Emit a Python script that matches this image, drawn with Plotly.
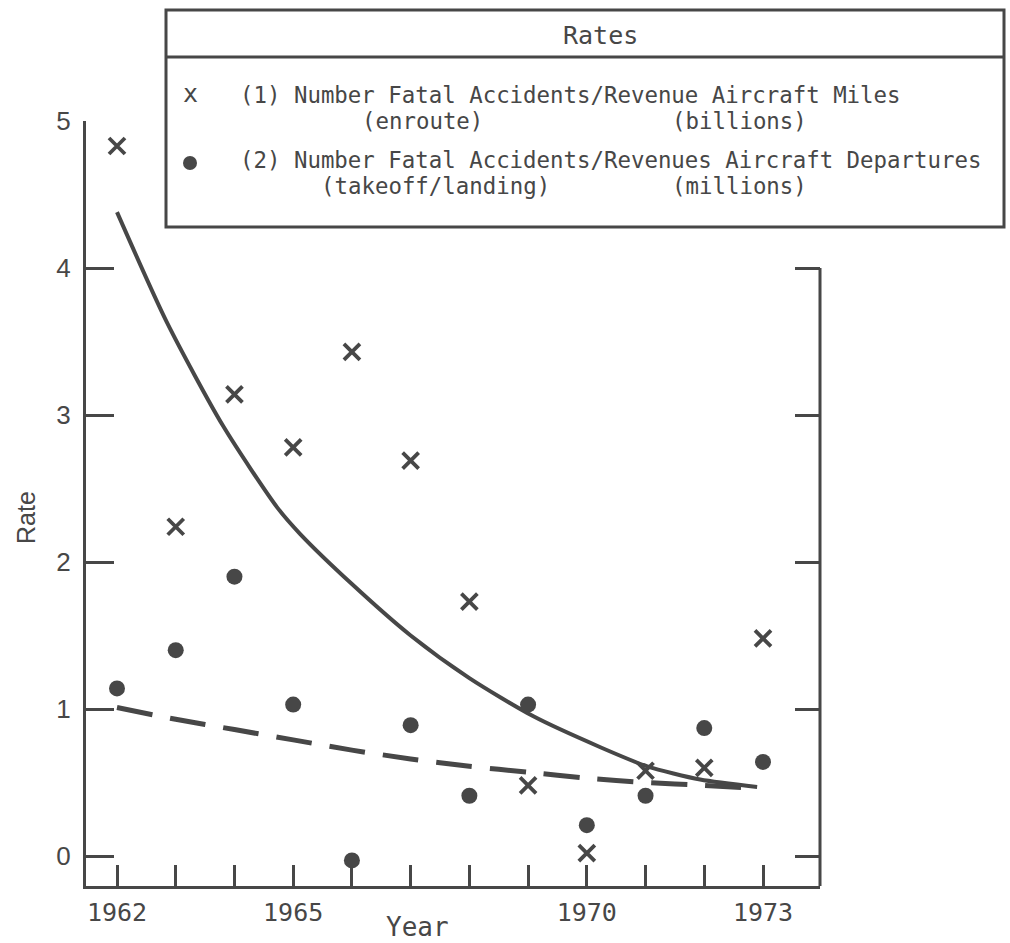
import plotly.graph_objects as go

# ---------------- data ----------------
years = [1962, 1963, 1964, 1965, 1966, 1967, 1968, 1969, 1970, 1971, 1972, 1973]
rate_enroute = [4.83, 2.24, 3.14, 2.78, 3.43, 2.69, 1.73, 0.48, 0.02, 0.58, 0.60, 1.48]
rate_takeoff = [1.14, 1.40, 1.90, 1.03, -0.03, 0.89, 0.41, 1.03, 0.21, 0.41, 0.87, 0.64]

trend1_x = [1962.0, 1962.85, 1963.8, 1964.73, 1965.12, 1966.0, 1967.0, 1968.0, 1969.09, 1970.23, 1971.03, 1971.93, 1972.9]
trend1_y = [4.38, 3.63, 2.93, 2.37, 2.19, 1.85, 1.50, 1.21, 0.95, 0.74, 0.61, 0.52, 0.47]

trend2_x = [1962, 1963, 1964, 1965, 1966, 1967, 1968, 1969, 1970, 1971, 1972, 1972.9]
trend2_y = [1.01, 0.93, 0.86, 0.79, 0.72, 0.66, 0.61, 0.57, 0.53, 0.50, 0.48, 0.46]

x_tick_vals = years
x_tick_text = ["1962", "", "", "1965", "", "", "", "", "1970", "", "", "1973"]
y_tick_vals = [0, 1, 2, 3, 4, 5]
y2_tick_vals = [0, 1, 2, 3, 4]

legend_title = "Rates"
legend_line1 = "(1) Number Fatal Accidents/Revenue Aircraft Miles"
legend_line2 = "(enroute)", "(billions)"
legend_line3 = "(2) Number Fatal Accidents/Revenues Aircraft Departures"
legend_line4 = "(takeoff/landing)", "(millions)"

# ---------------- layout geometry (pixels) ----------------
W, H = 1010, 943
L, R, T, B = 86, 820, 121, 886
INK = "#474747"
MONO = "DejaVu Sans Mono, Liberation Mono, monospace"
SANS = "Liberation Sans, Arial, sans-serif"


def px_x(px):
    return (px - L) / (R - L)


def px_y(py):
    return (B - py) / (B - T)


fig = go.Figure()

fig.add_trace(go.Scatter(
    x=trend1_x, y=trend1_y, mode="lines",
    line=dict(color=INK, width=4, shape="spline", smoothing=0.7),
    showlegend=False, hoverinfo="skip"))

fig.add_trace(go.Scatter(
    x=trend2_x, y=trend2_y, mode="lines",
    line=dict(color=INK, width=5, dash="36px,18px", shape="spline", smoothing=0.5),
    showlegend=False, hoverinfo="skip"))

fig.add_trace(go.Scatter(
    x=years, y=rate_enroute, mode="markers",
    marker=dict(symbol="x-thin", size=16, line=dict(color=INK, width=3.8), color=INK),
    showlegend=False))

fig.add_trace(go.Scatter(
    x=years, y=rate_takeoff, mode="markers",
    marker=dict(symbol="circle", size=16, color=INK),
    showlegend=False))

# invisible trace to anchor right-hand tick axis
fig.add_trace(go.Scatter(
    x=[years[0]], y=[0], yaxis="y2", mode="markers",
    marker=dict(opacity=0), showlegend=False, hoverinfo="skip"))

x_range = [1962 - (117 - L) / 58.73, 1973 + (R - 763) / 58.73]
y_range = [-(B - 856) / 147.0, 5.0]

fig.update_layout(
    width=W, height=H,
    margin=dict(l=L, r=W - R, t=T, b=H - B, pad=0),
    paper_bgcolor="white", plot_bgcolor="white",
    xaxis=dict(
        range=x_range, showgrid=False, zeroline=False,
        showline=True, linecolor=INK, linewidth=3,
        ticks="inside", ticklen=21, tickwidth=3, tickcolor=INK,
        tickvals=x_tick_vals, ticktext=x_tick_text,
        tickfont=dict(family=MONO, size=25, color=INK),
        ticklabelstandoff=2,
    ),
    yaxis=dict(
        range=y_range, showgrid=False, zeroline=False,
        showline=True, linecolor=INK, linewidth=3,
        ticks="inside", ticklen=28, tickwidth=3, tickcolor=INK,
        tickvals=y_tick_vals,
        tickfont=dict(family=SANS, size=26, color=INK),
        ticklabelstandoff=7,
    ),
    yaxis2=dict(
        range=y_range, overlaying="y", side="right",
        showgrid=False, zeroline=False, showline=False,
        ticks="inside", ticklen=25, tickwidth=3, tickcolor=INK,
        tickvals=y2_tick_vals, showticklabels=False,
    ),
)

# right-hand frame line (stops at 4)
fig.add_shape(type="line", xref="paper", yref="y", x0=1, x1=1,
              y0=y_range[0], y1=4.0, line=dict(color=INK, width=3))

# legend box
bx0, bx1, by_top, by_div, by_bot = 166, 1004, 10, 57, 227
fig.add_shape(type="rect", xref="paper", yref="paper",
              x0=px_x(bx0), x1=px_x(bx1), y0=px_y(by_bot), y1=px_y(by_top),
              line=dict(color=INK, width=3), fillcolor="white", layer="above")
fig.add_shape(type="line", xref="paper", yref="paper",
              x0=px_x(bx0), x1=px_x(bx1), y0=px_y(by_div), y1=px_y(by_div),
              line=dict(color=INK, width=3), layer="above")

# legend dot symbol
fig.add_shape(type="circle", xref="paper", yref="paper",
              x0=px_x(183), x1=px_x(197), y0=px_y(170), y1=px_y(156),
              line=dict(color=INK, width=0), fillcolor=INK, layer="above")

CH = 13.5  # monospace advance in px
TX0 = 238


def ann(text, px, py, size=22.4, family=MONO, xanchor="left", **kw):
    fig.add_annotation(text=text, xref="paper", yref="paper",
                       x=px_x(px), y=px_y(py), xanchor=xanchor, yanchor="middle",
                       showarrow=False, font=dict(family=family, size=size, color=INK), **kw)


ann(legend_title, 600, 36, size=25, xanchor="center")
ann("x", 190, 94, size=25, xanchor="center")
ann(legend_line1, TX0, 95)
ann(legend_line2[0], TX0 + 9 * CH, 121)
ann(legend_line2[1], TX0 + 32 * CH, 121)
ann(legend_line3, TX0, 160)
ann(legend_line4[0], TX0 + 6 * CH, 186)
ann(legend_line4[1], TX0 + 32 * CH, 186)

# axis titles
ann("Year", 417, 927, size=26, xanchor="center")
ann("Rate", 26, 518, size=25, family=SANS, xanchor="center", textangle=-90)

fig.write_html("out.html")
